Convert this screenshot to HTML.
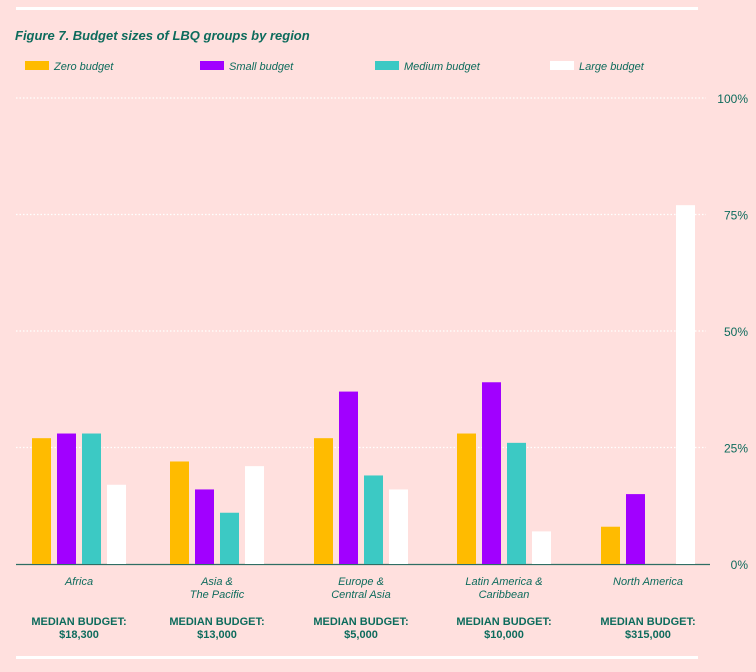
<!DOCTYPE html>
<html><head><meta charset="utf-8"><style>
body{margin:0;background:#ffe0de;}
svg{display:block;font-family:"Liberation Sans Narrow","Liberation Sans",sans-serif;}
</style></head><body>
<svg id="chart" width="756" height="672" viewBox="0 0 756 672">
<rect width="756" height="672" fill="#ffe0de"/>
<line x1="16" y1="8.5" x2="698" y2="8.5" stroke="#fff" stroke-width="3"/>
<line x1="16" y1="657.5" x2="698" y2="657.5" stroke="#fff" stroke-width="3"/>
<text x="15" y="40" font-size="13" font-style="italic" font-weight="bold" fill="#0d6b5c">Figure 7. Budget sizes of LBQ groups by region</text>
<g id="legend"></g>
<g id="grid"></g>
<g id="bars"></g>
<g id="labels"></g>
</svg>
<script>
const categories = ["Africa", "Asia &|The Pacific", "Europe &|Central Asia", "Latin America &|Caribbean", "North America"];
const medians = ["$18,300", "$13,000", "$5,000", "$10,000", "$315,000"];
const seriesNames = ["Zero budget", "Small budget", "Medium budget", "Large budget"];
const zeroBudget = [27, 22, 27, 28, 8];
const smallBudget = [28, 16, 37, 39, 15];
const mediumBudget = [28, 11, 19, 26, 0];
const largeBudget = [17, 21, 16, 7, 77];
const ticks = [0, 25, 50, 75, 100];

const colors = ["#ffbb00", "#a100ff", "#3cc9c4", "#ffffff"];
const series = [zeroBudget, smallBudget, mediumBudget, largeBudget];
const groupStarts = [32, 170, 314, 457, 601];
const NS = "http://www.w3.org/2000/svg";
const teal = "#0d6b5c";
function y(v){ return 564 - v * 4.66; }
function gx(i){ return groupStarts[i] !== undefined ? groupStarts[i] : 32 + i * 142; }
function mk(tag, attrs, parent){ const e = document.createElementNS(NS, tag); for (const k in attrs) e.setAttribute(k, attrs[k]); parent.appendChild(e); return e; }

const legend = document.getElementById("legend");
seriesNames.forEach((n, i) => {
  const lx = 25 + i * 175;
  const r = mk("rect", {x: lx, y: 61, width: 24, height: 9, fill: colors[i]}, legend);
  
  
  const t = mk("text", {x: lx + 29, y: 70, "font-size": 11, "font-style": "italic", fill: teal}, legend);
  
  
  t.textContent = n;
});

const grid = document.getElementById("grid");
ticks.forEach(t => {
  if (t > 0) {
    const l = mk("line", {x1: 16, x2: 706, y1: y(t), y2: y(t), stroke: "#fff", "stroke-width": 1.2, "stroke-dasharray": "1.5 2"}, grid);
    
    
  }
  const tx = mk("text", {x: 748, y: y(t) + 5, "font-size": 12, "text-anchor": "end", fill: teal}, grid);
  
  
  tx.textContent = t + "%";
});
const base = mk("line", {x1: 16, x2: 710, y1: 564.5, y2: 564.5, stroke: "#2e6e64", "stroke-width": 1.3}, grid);



const bars = document.getElementById("bars");
categories.forEach((c, i) => {
  series.forEach((s, j) => {
    if (s[i] <= 0) return;
    const b = mk("rect", {x: gx(i) + j * 25, y: y(s[i]), width: 19, height: 564 - y(s[i]), fill: colors[j]}, bars);
    
    
  });
});

const labels = document.getElementById("labels");
categories.forEach((c, i) => {
  const cx = gx(i) + 47;
  c.split("|").forEach((line, k) => {
    const t = mk("text", {x: cx, y: 585 + k * 13, "font-size": 11, "font-style": "italic", "text-anchor": "middle", fill: teal}, labels);
    
    
    t.textContent = line;
  });
  const m1 = mk("text", {x: cx, y: 625, "font-size": 11, "font-weight": "bold", "text-anchor": "middle", fill: teal}, labels);
  
  
  m1.textContent = "MEDIAN BUDGET:";
  const m2 = mk("text", {x: cx, y: 638, "font-size": 11, "font-weight": "bold", "text-anchor": "middle", fill: teal}, labels);
  
  
  m2.textContent = medians[i];
});
</script>
</body></html>
